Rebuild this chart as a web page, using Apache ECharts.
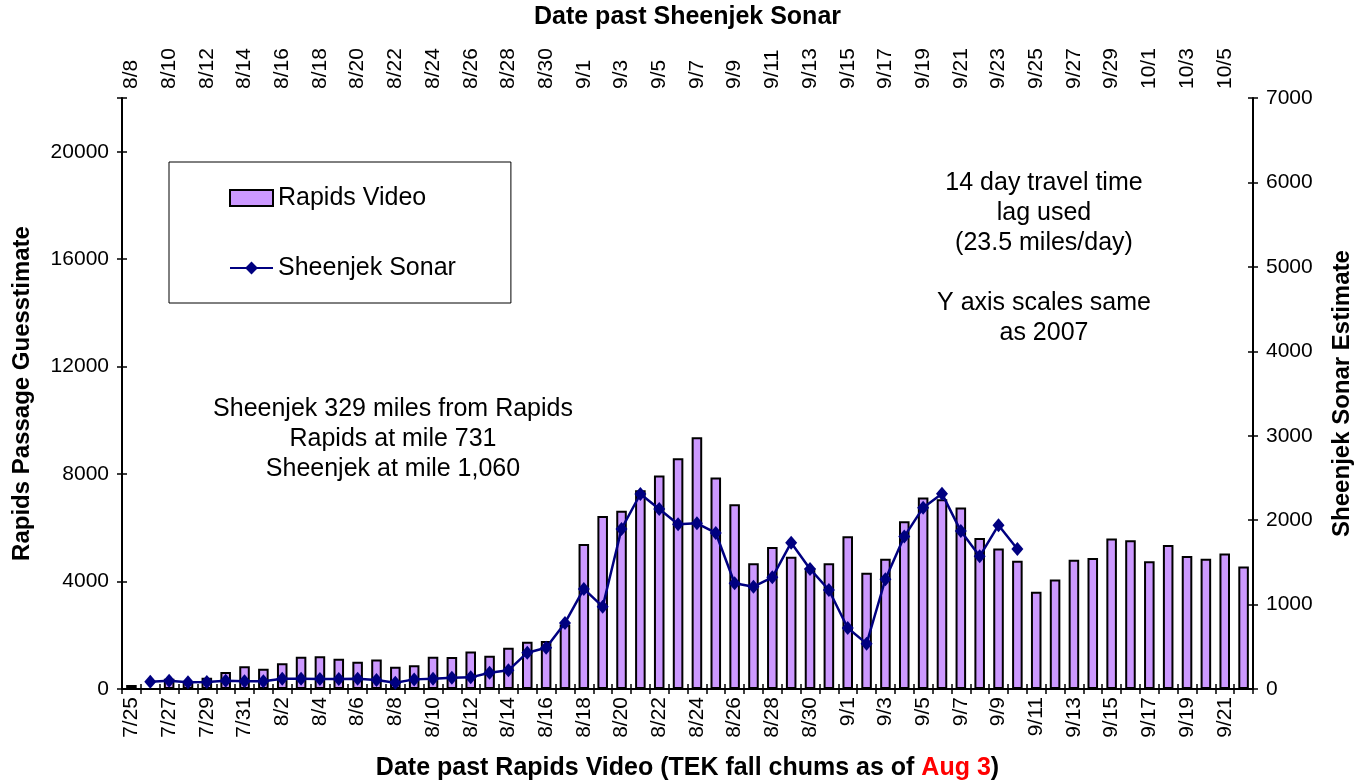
<!DOCTYPE html>
<html>
<head>
<meta charset="utf-8">
<script src="https://cdn.jsdelivr.net/npm/echarts/dist/echarts.min.js"></script>
<style>
	html, body { margin: 0; padding: 0; background: #ffffff; }
	#chart { width: 1364px; height: 784px; }
</style>
</head>
<body>
<div id="chart"></div>
<script>
//Dates past Rapids Video (bottom axis)
let rapids_dates = [
	"7/25", "7/26", "7/27", "7/28", "7/29", "7/30", "7/31",
	"8/1", "8/2", "8/3", "8/4", "8/5", "8/6", "8/7", "8/8", "8/9", "8/10",
	"8/11", "8/12", "8/13", "8/14", "8/15", "8/16", "8/17", "8/18", "8/19", "8/20",
	"8/21", "8/22", "8/23", "8/24", "8/25", "8/26", "8/27", "8/28", "8/29", "8/30", "8/31",
	"9/1", "9/2", "9/3", "9/4", "9/5", "9/6", "9/7", "9/8", "9/9", "9/10",
	"9/11", "9/12", "9/13", "9/14", "9/15", "9/16", "9/17", "9/18", "9/19", "9/20",
	"9/21", "9/22"
];

//Dates past Sheenjek Sonar (top axis, 14 day lag)
let sonar_dates = [
	"8/8", "8/9", "8/10", "8/11", "8/12", "8/13", "8/14", "8/15", "8/16", "8/17",
	"8/18", "8/19", "8/20", "8/21", "8/22", "8/23", "8/24", "8/25", "8/26", "8/27",
	"8/28", "8/29", "8/30", "8/31",
	"9/1", "9/2", "9/3", "9/4", "9/5", "9/6", "9/7", "9/8", "9/9", "9/10",
	"9/11", "9/12", "9/13", "9/14", "9/15", "9/16", "9/17", "9/18", "9/19", "9/20",
	"9/21", "9/22", "9/23", "9/24", "9/25", "9/26", "9/27", "9/28", "9/29", "9/30",
	"10/1", "10/2", "10/3", "10/4", "10/5", "10/6"
];

let rapids_video = [
	150, 0, 380, 270, 420, 630, 845,
	755, 955, 1200, 1215, 1127, 1015, 1100, 830, 880, 1200,
	1190, 1400, 1240, 1535, 1760, 1785, 2400, 5400, 6440, 6640,
	7400, 7945, 8590, 9370, 7870, 6880, 4685, 5290, 4920, 4500, 4685,
	5690, 4325, 4845, 6245, 7125, 7065, 6755, 5625, 5230, 4770,
	3617, 4078, 4807, 4881, 5602, 5539, 4758, 5364, 4955, 4844,
	5045, 4561
];

let sheenjek_sonar = [
	null, 85, 98, 79, 82, 98, 91,
	91, 122, 122, 118, 118, 122, 107, 75, 114, 122,
	134, 138, 193, 221, 430, 488, 782, 1185, 975, 1896,
	2310, 2133, 1951, 1963, 1848, 1252, 1212, 1323, 1733, 1422, 1173,
	723, 537, 1300, 1805, 2148, 2314, 1870, 1572, 1940, 1659,
	null, null, null, null, null, null, null, null, null, null,
	null, null
];

let left_ticks = [0, 22000, 4000];
let right_ticks = [0, 7000, 1000];

let note_distance = "Sheenjek 329 miles from Rapids\nRapids at mile 731\nSheenjek at mile 1,060";
let note_lag = "14 day travel time\nlag used\n(23.5 miles/day)\n\nY axis scales same\nas 2007";

//Declare local instance variables
let font_family = "'Liberation Sans', Arial, sans-serif";
let chart = echarts.init(document.getElementById("chart"), null, { renderer: "canvas" });

let tick_label_style = {
	color: "#000",
	fontFamily: font_family,
	fontSize: 21
};
let axis_name_style = {
	color: "#000",
	fontFamily: font_family,
	fontSize: 24,
	fontWeight: "bold"
};
let x_name_style = Object.assign({}, axis_name_style, { fontSize: 25 });
let axis_line = { show: true, lineStyle: { color: "#000", width: 2 } };
let tick_line = { color: "#000", width: 1.5 };

function yAxisObj (arg0_ticks, arg1_position, arg2_options) {
	//Convert from parameters
	let ticks = arg0_ticks;
	let position = arg1_position;
	let options = (arg2_options) ? arg2_options : {};

	//Return statement
	return Object.assign({
		type: "value",
		position: position,
		min: ticks[0],
		max: ticks[1],
		interval: ticks[2],
		splitLine: { show: false },
		axisLine: axis_line,
		axisTick: { show: true, length: 5, lineStyle: tick_line },
		axisLabel: Object.assign({
			margin: 13,
			formatter: (value) => (value === ticks[1] && ticks[1] % ticks[2] !== 0) ? "" : String(value)
		}, tick_label_style)
	}, options);
}

let chart_options = {
	animation: false,
	backgroundColor: "#ffffff",
	grid: { left: 122, right: 111, top: 98, bottom: 95, containLabel: false, outerBoundsMode: "none" },
	legend: {
		data: [
			{ name: "Rapids Video", icon: "rect" },
			{ name: "Sheenjek Sonar" }
		],
		orient: "vertical",
		left: 169,
		top: 162,
		padding: [22, 55, 21, 60],
		itemGap: 42,
		itemWidth: 43,
		itemHeight: 16,
		borderColor: "#000",
		borderWidth: 1,
		backgroundColor: "#fff",
		textStyle: { color: "#000", fontFamily: font_family, fontSize: 25, lineHeight: 28 }
	},
	xAxis: [
		{
			type: "category",
			position: "bottom",
			data: rapids_dates,
			boundaryGap: true,
			name: "{b|Date past Rapids Video (TEK fall chums as of }{r|Aug 3}{b|)}",
			nameLocation: "middle",
			nameGap: 67,
			nameTextStyle: {
				rich: {
					b: x_name_style,
					r: Object.assign({}, x_name_style, { color: "#ff0000" })
				}
			},
			axisLine: axis_line,
			axisTick: { show: true, interval: 0, length: 5, lineStyle: tick_line },
			axisLabel: Object.assign({ interval: 1, rotate: 90, margin: 8 }, tick_label_style)
		},
		{
			type: "category",
			position: "top",
			data: sonar_dates,
			boundaryGap: true,
			name: "Date past Sheenjek Sonar",
			nameLocation: "middle",
			nameGap: 68,
			nameTextStyle: x_name_style,
			axisLine: axis_line,
			axisTick: { show: true, interval: 0, length: 5, lineStyle: tick_line },
			axisLabel: Object.assign({ interval: 1, rotate: 90, margin: 9 }, tick_label_style)
		}
	],
	yAxis: [
		yAxisObj(left_ticks, "left", {
			name: "Rapids Passage Guesstimate",
			nameLocation: "middle",
			nameRotate: 90,
			nameGap: 88,
			nameTextStyle: axis_name_style
		}),
		yAxisObj(right_ticks, "right", {
			name: "Sheenjek Sonar Estimate",
			nameLocation: "middle",
			nameRotate: 90,
			nameGap: 77,
			nameTextStyle: axis_name_style
		}),
		//Inner halves of the crossing tick marks
		yAxisObj(left_ticks, "left", {
			axisLine: { show: false },
			axisLabel: { show: false },
			axisTick: { show: true, inside: true, length: 5, lineStyle: tick_line }
		}),
		yAxisObj(right_ticks, "right", {
			axisLine: { show: false },
			axisLabel: { show: false },
			axisTick: { show: true, inside: true, length: 5, lineStyle: tick_line }
		})
	],
	series: [
		{
			name: "Rapids Video",
			type: "bar",
			xAxisIndex: 0,
			yAxisIndex: 0,
			data: rapids_video,
			barCategoryGap: "44%",
			itemStyle: { color: "#cc99ff", borderColor: "#000", borderWidth: 2 }
		},
		{
			name: "Sheenjek Sonar",
			type: "line",
			xAxisIndex: 0,
			yAxisIndex: 1,
			data: sheenjek_sonar,
			symbol: "diamond",
			symbolSize: [12, 14],
			showAllSymbol: true,
			connectNulls: false,
			lineStyle: { color: "#000080", width: 2.5 },
			itemStyle: { color: "#000080" }
		}
	],
	graphic: [
		{
			type: "text",
			x: 393,
			y: 439,
			style: {
				text: note_distance,
				fill: "#000",
				font: "25px " + font_family,
				lineHeight: 30,
				align: "center",
				verticalAlign: "middle"
			}
		},
		{
			type: "text",
			x: 1044,
			y: 258,
			style: {
				text: note_lag,
				fill: "#000",
				font: "25px " + font_family,
				lineHeight: 30,
				align: "center",
				verticalAlign: "middle"
			}
		}
	]
};

chart.setOption(chart_options);
</script>
</body>
</html>
